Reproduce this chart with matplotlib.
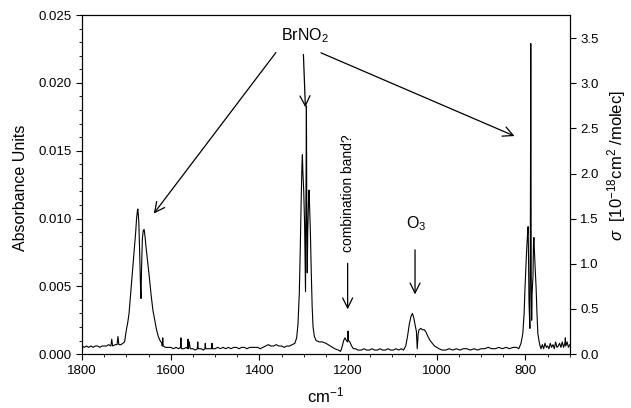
import numpy as np
import matplotlib
matplotlib.use('Agg')
import matplotlib.pyplot as plt
from matplotlib.ticker import MultipleLocator, FormatStrFormatter

plt.rcParams['font.family'] = ['Liberation Sans', 'DejaVu Sans']
plt.rcParams['mathtext.fontset'] = 'custom'
plt.rcParams['mathtext.rm'] = 'Liberation Sans'
plt.rcParams['mathtext.it'] = 'Liberation Sans:italic'

'''
 spectrum read off the picture, piece by piece (wavenumber in cm-1, absorbance)
'''
base_left_wn = [1800, 1795, 1790, 1785, 1780, 1775, 1770, 1765, 1760, 1755, 1750, 1745,
                1740, 1735, 1733, 1731, 1725, 1721, 1719, 1717, 1712, 1708, 1704]
base_left_abs = [0.0006, 0.0005, 0.0006, 0.0005, 0.0006, 0.0005, 0.0006, 0.0006, 0.0005,
                 0.0006, 0.0006, 0.0006, 0.0007, 0.0006, 0.0011, 0.0006, 0.0007, 0.0007,
                 0.0013, 0.0007, 0.0007, 0.0008, 0.0009]

band_1670_wn = [1700, 1697, 1694, 1691, 1688, 1685, 1682, 1679, 1677, 1675, 1674, 1672,
                1670, 1668, 1667, 1666, 1664, 1662, 1660, 1658, 1656, 1652, 1648, 1644,
                1640, 1636, 1632, 1628, 1624, 1620]
band_1670_abs = [0.0018, 0.0023, 0.0030, 0.0042, 0.0053, 0.0065, 0.0078, 0.0090, 0.0100,
                 0.0106, 0.0107, 0.0098, 0.0075, 0.0048, 0.0041, 0.0060, 0.0085, 0.0091,
                 0.0092, 0.0087, 0.0080, 0.0068, 0.0056, 0.0043, 0.0032, 0.0025, 0.0018,
                 0.0013, 0.0010, 0.0008]

base_mid_wn = [1619, 1618, 1617, 1612, 1606, 1600, 1594, 1588, 1582, 1578, 1577, 1576,
               1570, 1565, 1562, 1561, 1560, 1558, 1556, 1550, 1545, 1540, 1539, 1538,
               1532, 1526, 1523, 1522, 1521, 1515, 1508, 1507, 1506, 1500, 1494, 1488,
               1482, 1476, 1470, 1464, 1458, 1452, 1446, 1440, 1434, 1428, 1422, 1416,
               1410, 1404, 1398, 1392, 1386, 1380, 1374, 1368, 1362, 1356, 1350, 1344,
               1338, 1332, 1326]
base_mid_abs = [0.0006, 0.0012, 0.0006, 0.0005, 0.0005, 0.0005, 0.0004, 0.0005, 0.0004,
                0.0005, 0.0012, 0.0004, 0.0004, 0.0005, 0.0004, 0.0011, 0.0004, 0.0009,
                0.0004, 0.0004, 0.0003, 0.0004, 0.0009, 0.0004, 0.0004, 0.0003, 0.0004,
                0.0008, 0.0004, 0.0004, 0.0004, 0.0008, 0.0004, 0.0004, 0.0005, 0.0004,
                0.0005, 0.0004, 0.0005, 0.0004, 0.0005, 0.0005, 0.0004, 0.0005, 0.0005,
                0.0004, 0.0005, 0.0005, 0.0005, 0.0005, 0.0004, 0.0005, 0.0006, 0.0007,
                0.0006, 0.0006, 0.0007, 0.0006, 0.0006, 0.0005, 0.0006, 0.0006, 0.0007]

band_1300_wn = [1320, 1316, 1313, 1310, 1308, 1306, 1304, 1303, 1302, 1300, 1298, 1296,
                1295, 1294, 1293, 1292, 1291, 1289, 1288, 1287, 1285, 1283, 1281, 1279,
                1276, 1272, 1265, 1258, 1250, 1240, 1230, 1222, 1217]
band_1300_abs = [0.0008, 0.0012, 0.0022, 0.0045, 0.0075, 0.0110, 0.0140, 0.0147, 0.0135,
                 0.0120, 0.0095, 0.0046, 0.0120, 0.0183, 0.0100, 0.0060, 0.0090, 0.0115,
                 0.0121, 0.0110, 0.0090, 0.0060, 0.0035, 0.0020, 0.0013, 0.0010, 0.0009,
                 0.0009, 0.0008, 0.0006, 0.0004, 0.0003, 0.0002]

band_1200_wn = [1213, 1210, 1207, 1204, 1201, 1200, 1199, 1196, 1192, 1188, 1183, 1178,
                1170, 1164, 1158, 1152, 1146, 1140, 1134, 1128, 1122, 1116, 1110, 1104,
                1098, 1092, 1086, 1080, 1075]
band_1200_abs = [0.0006, 0.0010, 0.0012, 0.0010, 0.0009, 0.0017, 0.0010, 0.0009, 0.0006,
                 0.0004, 0.0004, 0.0003, 0.0003, 0.0004, 0.0003, 0.0003, 0.0004, 0.0003,
                 0.0003, 0.0004, 0.0003, 0.0003, 0.0004, 0.0003, 0.0003, 0.0004, 0.0003,
                 0.0004, 0.0003]

band_o3_wn = [1070, 1066, 1062, 1058, 1055, 1052, 1048, 1046, 1044, 1042, 1040, 1036,
              1032, 1028, 1024, 1020, 1015, 1010, 1005, 1000, 995, 988]
band_o3_abs = [0.0006, 0.0013, 0.0022, 0.0028, 0.0030, 0.0027, 0.0020, 0.0017, 0.0004,
               0.0015, 0.0018, 0.0019, 0.0018, 0.0018, 0.0016, 0.0013, 0.0010, 0.0008,
               0.0006, 0.0005, 0.0004, 0.0003]

base_right_wn = [980, 972, 964, 956, 948, 940, 932, 924, 916, 908, 900, 892, 884, 876,
                 868, 860, 852, 844, 836, 828, 820, 815]
base_right_abs = [0.0003, 0.0004, 0.0003, 0.0004, 0.0003, 0.0004, 0.0004, 0.0003, 0.0004,
                  0.0003, 0.0004, 0.0004, 0.0005, 0.0004, 0.0004, 0.0005, 0.0004, 0.0005,
                  0.0004, 0.0005, 0.0005, 0.0004]

band_790_wn = [810, 806, 803, 801, 799, 797, 795, 794, 793, 792, 790, 789, 788, 787, 786,
               785, 783, 782, 781, 779, 776, 774, 772, 769, 767]
band_790_abs = [0.0008, 0.0015, 0.0030, 0.0049, 0.0065, 0.0079, 0.0090, 0.0094, 0.0070,
                0.0038, 0.0019, 0.0080, 0.0229, 0.0060, 0.0025, 0.0045, 0.0057, 0.0080,
                0.0086, 0.0070, 0.0049, 0.0030, 0.0015, 0.0009, 0.0006]

base_end_wn = [765, 762, 759, 756, 753, 750, 747, 744, 741, 738, 735, 732, 729, 726, 723,
               720, 717, 714, 711, 710, 709, 706, 703, 700]
base_end_abs = [0.0004, 0.0007, 0.0004, 0.0008, 0.0005, 0.0006, 0.0004, 0.0008, 0.0005,
                0.0007, 0.0004, 0.0009, 0.0005, 0.0006, 0.0008, 0.0005, 0.0009, 0.0005,
                0.0008, 0.0012, 0.0006, 0.0009, 0.0005, 0.0007]

wn = np.concatenate([base_left_wn, band_1670_wn, base_mid_wn, band_1300_wn,
                     band_1200_wn, band_o3_wn, base_right_wn, band_790_wn, base_end_wn])
absorb = np.concatenate([base_left_abs, band_1670_abs, base_mid_abs, band_1300_abs,
                         band_1200_abs, band_o3_abs, base_right_abs, band_790_abs,
                         base_end_abs])

# absorbance -> cross section (10^-18 cm2/molec), from the two axes of the picture
sigma_per_abs = 150.2

fig = plt.figure(figsize=(6.31, 4.08), dpi=100)
ax = fig.add_axes([0.130, 0.132, 0.773, 0.831])
ax.plot(wn, absorb, color='black', lw=0.8)

ax.set_xlim(1800, 700)
ax.set_ylim(0, 0.025)
ax.xaxis.set_major_locator(MultipleLocator(200))
ax.xaxis.set_minor_locator(MultipleLocator(50))
ax.yaxis.set_major_locator(MultipleLocator(0.005))
ax.yaxis.set_minor_locator(MultipleLocator(0.001))
ax.yaxis.set_major_formatter(FormatStrFormatter('%.3f'))
ax.tick_params(which='major', direction='out', length=4, width=0.8, labelsize=9.5)
ax.tick_params(which='minor', direction='out', length=2, width=0.6)
ax.set_xlabel('cm$^{-1}$', fontsize=12)
ax.xaxis.set_label_coords(0.5, -0.092)
ax.set_ylabel('Absorbance Units', fontsize=11.5)
ax.yaxis.set_label_coords(-0.111, 0.49)

ax2 = ax.twinx()
ax2.set_ylim(0, 0.025 * sigma_per_abs)
ax2.yaxis.set_major_locator(MultipleLocator(0.5))
ax2.yaxis.set_major_formatter(FormatStrFormatter('%.1f'))
ax2.tick_params(which='major', direction='out', length=4, width=0.8, labelsize=9.5)
ax2.set_ylabel(r'$\sigma$  [10$^{-18}$cm$^2$ /molec]', fontsize=12)
ax2.yaxis.set_label_coords(1.072, 0.555)

'''
 labels and arrows
'''
arrow = dict(arrowstyle='->', lw=0.9, color='black', mutation_scale=18)
ax.text(1297, 0.0235, 'BrNO$_2$', ha='center', va='center', fontsize=11.5)
ax.annotate('', xy=(1642, 0.0102), xytext=(1359, 0.0224), arrowprops=arrow)
ax.annotate('', xy=(1296, 0.0180), xytext=(1301, 0.0223), arrowprops=arrow)
ax.annotate('', xy=(819, 0.0160), xytext=(1267, 0.0223), arrowprops=arrow)

ax.text(1201, 0.0119, 'combination band?', rotation=90, ha='center', va='center',
        fontsize=10)
ax.annotate('', xy=(1201, 0.0031), xytext=(1201, 0.0069), arrowprops=arrow)

ax.text(1046, 0.0096, 'O$_3$', ha='center', va='center', fontsize=11.5)
ax.annotate('', xy=(1049, 0.0042), xytext=(1049, 0.0079), arrowprops=arrow)

plt.savefig('out.png', dpi=100)
